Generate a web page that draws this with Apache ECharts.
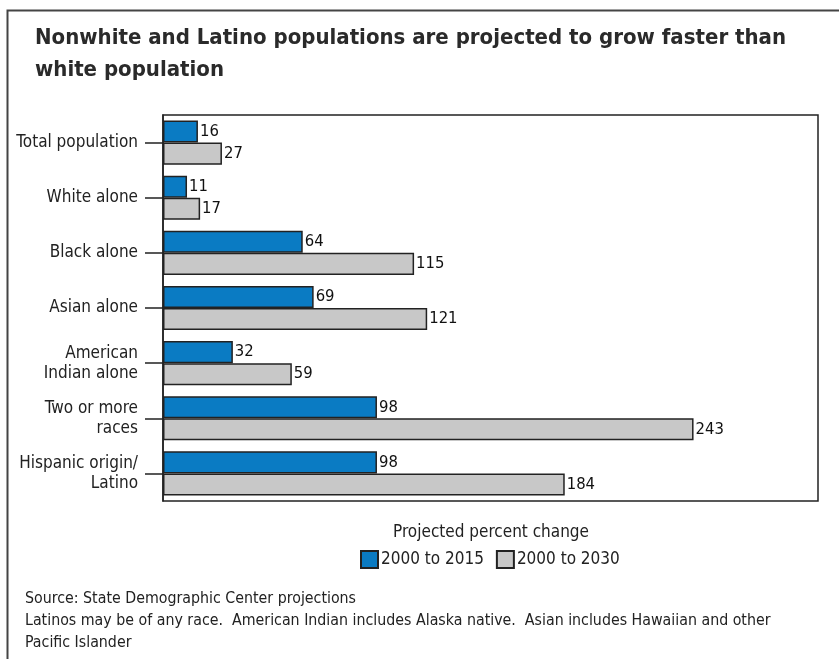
<!DOCTYPE html>
<html><head><meta charset="utf-8">
<script src="https://cdn.jsdelivr.net/npm/echarts@6/dist/echarts.min.js"></script>
<style>html,body{margin:0;padding:0;background:#fff}#c{width:839px;height:659px}</style>
</head><body><div id="c"></div>
<script>
const categories = ["Total population","White alone","Black alone","Asian alone","American\nIndian alone","Two or more\nraces","Hispanic origin/\nLatino"];
const seriesNames = ["2000 to 2015","2000 to 2030"];
const values2015 = [16,11,64,69,32,98,98];
const values2030 = [27,17,115,121,59,243,184];
const titleText = "Nonwhite and Latino populations are projected to grow faster than\nwhite population";
const legendTitle = "Projected percent change";
const notes = ["Source: State Demographic Center projections","Latinos may be of any race.  American Indian includes Alaska native.  Asian includes Hawaiian and other","Pacific Islander"];

const FONT = '"Liberation Sans Narrow","DejaVu Sans Condensed","Liberation Sans",sans-serif';
const chart = echarts.init(document.getElementById('c'));
const lbl = {show:true, position:'right', distance:2, color:'#111', fontFamily:FONT, fontSize:16.5};
chart.setOption({
  animation:false,
  backgroundColor:'#fff',
  title:{text:titleText, left:30, top:17, textStyle:{fontFamily:'"DejaVu Sans Condensed",sans-serif', fontWeight:'bold', fontSize:22, lineHeight:32, color:'#2a2a2a'}},
  grid:{left:163, top:115, right:21, bottom:158, show:true, borderColor:'#222', borderWidth:1.5, backgroundColor:'#fff'},
  xAxis:{type:'value', min:0, max:300, show:false},
  yAxis:{type:'category', data:categories, inverse:true,
    axisLine:{show:true, lineStyle:{color:'#222', width:1.5}},
    axisTick:{show:true, alignWithLabel:true, length:18, lineStyle:{color:'#222', width:1.5}},
    axisLabel:{margin:25, color:'#222', fontFamily:FONT, fontSize:17, lineHeight:20, align:'right'}},
  legend:{data:seriesNames, top:545, left:355, itemWidth:17, itemHeight:17, itemGap:12, icon:'rect',
    textStyle:{fontFamily:FONT, fontSize:17, color:'#222', padding:[0,0,0,-2]}},
  series:[
    {name:seriesNames[0], type:'bar', data:values2015, barGap:'0%', barCategoryGap:'20%',
     itemStyle:{color:'#0a7bc3', borderColor:'#222', borderWidth:1.5}, label:lbl},
    {name:seriesNames[1], type:'bar', data:values2030, barGap:'0%', barCategoryGap:'20%',
     itemStyle:{color:'#c8c8c8', borderColor:'#222', borderWidth:1.5}, label:lbl}
  ],
  graphic:[
    {type:'rect', left:5, top:8, shape:{width:900, height:700}, style:{fill:'none', stroke:'#444', lineWidth:2}, z:-1, silent:true},
    {type:'text', x:491, y:533, style:{text:legendTitle, font:'17px '+FONT, fill:'#222', align:'center', verticalAlign:'middle'}},
    {type:'text', x:25, y:599, style:{text:notes[0], font:'15.8px '+FONT, fill:'#222', verticalAlign:'middle'}},
    {type:'text', x:25, y:621, style:{text:notes[1], font:'15.8px '+FONT, fill:'#222', verticalAlign:'middle'}},
    {type:'text', x:25, y:643, style:{text:notes[2], font:'15.8px '+FONT, fill:'#222', verticalAlign:'middle'}}
  ]
});
</script></body></html>
